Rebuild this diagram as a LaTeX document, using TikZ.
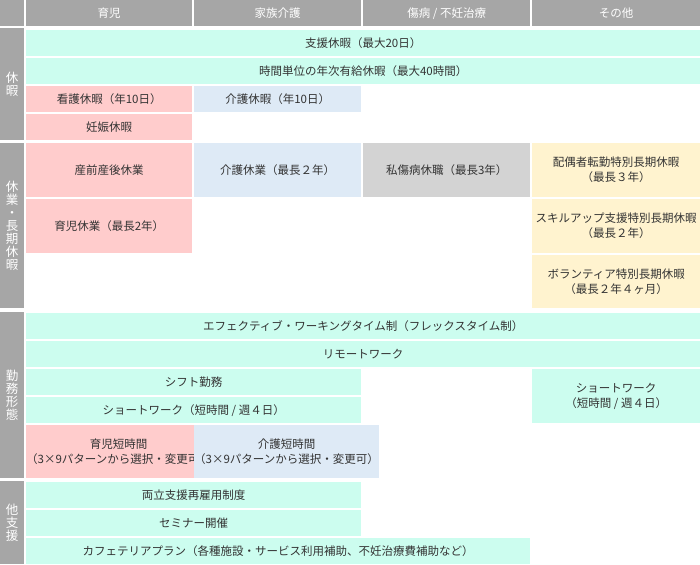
\documentclass[tikz,border=0pt]{standalone}
\usepackage{fontspec}
\setmainfont{Noto Sans CJK JP}
\definecolor{mint}{HTML}{CCFDEF}
\definecolor{pinkc}{HTML}{FFCCCC}
\definecolor{bluec}{HTML}{DEEAF6}
\definecolor{grayc}{HTML}{D3D3D3}
\definecolor{cream}{HTML}{FFF3CF}
\definecolor{hdr}{HTML}{A6A6A6}
\definecolor{txt}{HTML}{333333}
\tikzset{
 cell/.style={anchor=north west,inner sep=0pt,align=center,text=txt,font=\fontsize{11.5}{15}\selectfont},
 hcell/.style={cell,fill=hdr,text=white},
 lab/.style={cell,fill=hdr,text=white,font=\fontsize{12.5}{13}\selectfont}
}
\newcommand{\cb}[7]{\node[cell,fill=#6,minimum width=#4pt,minimum height=#5pt] (#1) at (#2pt,-#3pt) {#7};}
\begin{document}
\begin{tikzpicture}
\useasboundingbox[fill=white] (0,0) rectangle (700pt,-564pt);
% header
\node[hcell,minimum width=24pt,minimum height=26pt] (h0) at (0pt,0pt) {};
\node[hcell,minimum width=166pt,minimum height=26pt] (h1) at (26pt,0pt) {育児};
\node[hcell,minimum width=167pt,minimum height=26pt] (h2) at (194pt,0pt) {家族介護};
\node[hcell,minimum width=167pt,minimum height=26pt] (h3) at (363pt,0pt) {傷病 / 不妊治療};
\node[hcell,minimum width=168pt,minimum height=26pt] (h4) at (532pt,0pt) {その他};
% section labels
\node[lab,minimum width=24pt,minimum height=112pt] (l1) at (0pt,-28pt) {休\\暇};
\node[lab,minimum width=24pt,minimum height=165pt] (l2) at (0pt,-143pt) {休\\業\\・\\長\\期\\休\\暇};
\node[lab,minimum width=24pt,minimum height=166pt] (l3) at (0pt,-312pt) {勤\\務\\形\\態};
\node[lab,minimum width=24pt,minimum height=83pt] (l4) at (0pt,-481pt) {他\\支\\援};
% 休暇
\cb{a1}{26}{30}{674}{26}{mint}{支援休暇（最大20日）}
\cb{a2}{26}{58}{674}{26}{mint}{時間単位の年次有給休暇（最大40時間）}
\cb{a3}{26}{86}{166}{26}{pinkc}{看護休暇（年10日）}
\cb{a4}{194}{86}{167}{26}{bluec}{介護休暇（年10日）}
\cb{a5}{26}{114}{166}{26}{pinkc}{妊娠休暇}
% 休業
\cb{b1}{26}{143}{166}{54}{pinkc}{産前産後休業}
\cb{b2}{194}{143}{167}{54}{bluec}{介護休業（最長２年）}
\cb{b3}{363}{143}{167}{54}{grayc}{私傷病休職（最長3年）}
\cb{b4}{532}{143}{168}{54}{cream}{配偶者転勤特別長期休暇\\（最長３年）}
\cb{b5}{26}{199}{166}{54}{pinkc}{育児休業（最長2年）}
\cb{b6}{532}{199}{168}{54}{cream}{スキルアップ支援特別長期休暇\\（最長２年）}
\cb{b7}{532}{255}{168}{53}{cream}{ボランティア特別長期休暇\\（最長２年４ヶ月）}
% 勤務形態
\cb{c1}{26}{313}{674}{26}{mint}{エフェクティブ・ワーキングタイム制（フレックスタイム制）}
\cb{c2}{26}{341}{674}{26}{mint}{リモートワーク}
\cb{c3}{26}{369}{335}{26}{mint}{シフト勤務}
\cb{c4}{26}{397}{335}{26}{mint}{ショートワーク（短時間 / 週４日）}
\cb{c5}{532}{369}{168}{54}{mint}{ショートワーク\\（短時間 / 週４日）}
\cb{c6}{26}{425}{166}{53}{pinkc}{育児短時間\\（3×9パターンから選択・変更可）}
\cb{c7}{194}{425}{167}{53}{bluec}{介護短時間\\（3×9パターンから選択・変更可）}
% 他支援
\cb{d1}{26}{482}{335}{26}{mint}{両立支援再雇用制度}
\cb{d2}{26}{510}{335}{26}{mint}{セミナー開催}
\cb{d3}{26}{538}{504}{26}{mint}{カフェテリアプラン（各種施設・サービス利用補助、不妊治療費補助など）}
\end{tikzpicture}
\end{document}
